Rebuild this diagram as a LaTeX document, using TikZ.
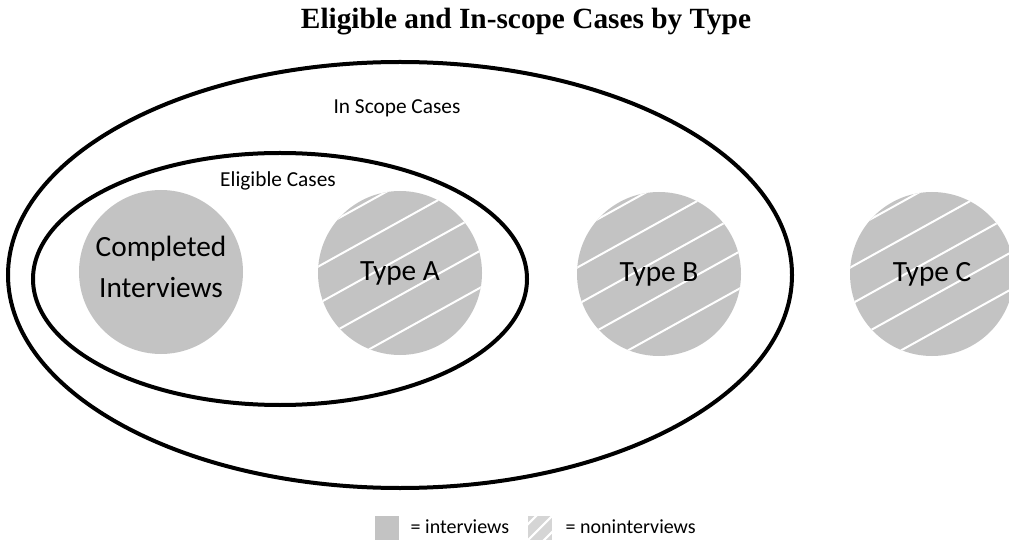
\documentclass[tikz,border=0pt]{standalone}
\usepackage{fontspec}
\setmainfont{Carlito}
\newfontfamily\titlefont{Liberation Serif}
\usepackage{tikz}
\definecolor{casegray}{RGB}{195,195,195}
\tikzstyle{ring} = [draw=black, line width=3pt]
\tikzstyle{stripe} = [draw=white, line width=1.5pt]
\tikzstyle{interview} = [circle, fill=casegray, minimum size=123pt, inner sep=0pt,
    align=center, font=\fontsize{22}{31}\selectfont]
\tikzstyle{noninterview} = [interview, path picture={
    \foreach \k in {-3.4,-2.4,...,3.6}
        \draw[stripe] ([shift={(\k*15.7-110,\k*28.3+61)}]path picture bounding box.center) -- ++(220,-122);}]
\tikzstyle{caselabel} = [font=\fontsize{16}{19}\selectfont]
\tikzstyle{legendtext} = [anchor=base west, font=\fontsize{15}{18}\selectfont]

\begin{document}
\begin{tikzpicture}[x=0.75pt, y=-0.75pt]
    \useasboundingbox (0,0) rectangle (1009,541);
    \node[anchor=base, font=\titlefont\bfseries\fontsize{22}{26}\selectfont] (title) at (526,29) {Eligible and In-scope Cases by Type};
    % in scope and eligible cases
    \draw[ring] (400,275) ellipse [x radius=392, y radius=213];
    \draw[ring] (280,279) ellipse [x radius=247, y radius=126];
    \node[caselabel] (inscope) at (397,108) {In Scope Cases};
    \node[caselabel] (eligible) at (278,181) {Eligible Cases};
    % the case types
    \node[interview, text depth=8pt] (completed) at (161,272) {Completed\\Interviews};
    \node[noninterview] (typea) at (400,273) {Type A};
    \node[noninterview] (typeb) at (659,274) {Type B};
    \node[noninterview] (typec) at (932,274) {Type C};
    % legend
    \node[fill=casegray, minimum size=18pt, inner sep=0pt] (legint) at (386.5,528) {};
    \node[legendtext] (leginttext) at (406,533) {= interviews};
    \node[fill=casegray!70, minimum size=18pt, inner sep=0pt, path picture={
        \foreach \k in {-1,0,1}
            \draw[draw=white, line width=1.6pt] ([shift={(\k*8-20,\k*8+20)}]path picture bounding box.center) -- ++(40,-40);}] (legnon) at (540,528) {};
    \node[legendtext] (legnontext) at (561,533) {= noninterviews};
\end{tikzpicture}
\end{document}
